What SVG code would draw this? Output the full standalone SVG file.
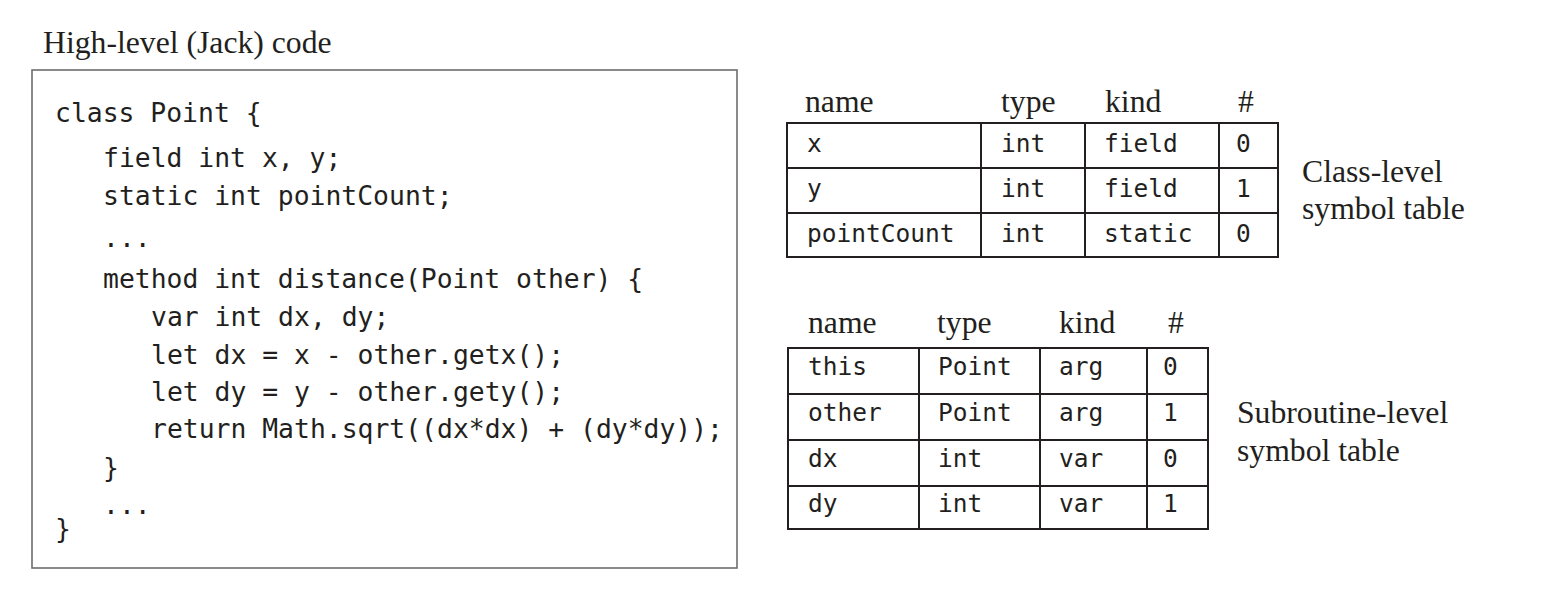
<svg xmlns="http://www.w3.org/2000/svg" width="1550" height="596" viewBox="0 0 1550 596">
<style>
.serif{font-family:"Liberation Serif","Times New Roman",serif;font-size:31.7px;fill:#231f20}
.code{font-family:"DejaVu Sans Mono","Liberation Mono",monospace;font-size:26.4px;fill:#231f20}
.cell{font-family:"DejaVu Sans Mono","Liberation Mono",monospace;font-size:24.5px;fill:#231f20}
.grid{fill:none;stroke:#231f20;stroke-width:2}
</style>
<rect width="1550" height="596" fill="#fff"/>
<g id="code">
<text class="serif" x="43" y="53">High-level (Jack) code</text>
<rect x="32" y="70" width="705" height="498" fill="none" stroke="#6d6d6d" stroke-width="1.6"/>
<text class="code" x="55" y="122">class Point {</text>
<text class="code" x="103" y="167">field int x, y;</text>
<text class="code" x="103" y="205">static int pointCount;</text>
<text class="code" x="103" y="247">...</text>
<text class="code" x="103" y="288">method int distance(Point other) {</text>
<text class="code" x="151" y="326">var int dx, dy;</text>
<text class="code" x="151" y="364">let dx = x - other.getx();</text>
<text class="code" x="151" y="401">let dy = y - other.gety();</text>
<text class="code" x="151" y="438">return Math.sqrt((dx*dx) + (dy*dy));</text>
<text class="code" x="103" y="477">}</text>
<text class="code" x="103" y="514">...</text>
<text class="code" x="55" y="538">}</text>
</g>
<g id="class-table">
<text class="serif" x="805" y="112">name</text>
<text class="serif" x="1001" y="112">type</text>
<text class="serif" x="1105" y="112">kind</text>
<text class="serif" x="1246" y="112" text-anchor="middle">#</text>
<rect class="grid" x="787" y="123" width="491" height="134"/>
<path class="grid" d="M787 168H1278M787 213H1278M981 123V257M1085 123V257M1219 123V257"/>
<text class="cell" x="807" y="152">x</text>
<text class="cell" x="1001" y="152">int</text>
<text class="cell" x="1104" y="152">field</text>
<text class="cell" x="1236" y="152">0</text>
<text class="cell" x="807" y="197">y</text>
<text class="cell" x="1001" y="197">int</text>
<text class="cell" x="1104" y="197">field</text>
<text class="cell" x="1236" y="197">1</text>
<text class="cell" x="807" y="242">pointCount</text>
<text class="cell" x="1001" y="242">int</text>
<text class="cell" x="1104" y="242">static</text>
<text class="cell" x="1236" y="242">0</text>
<text class="serif" x="1302" y="182">Class-level</text>
<text class="serif" x="1302" y="219">symbol table</text>
</g>
<g id="subroutine-table">
<text class="serif" x="808" y="333">name</text>
<text class="serif" x="937" y="333">type</text>
<text class="serif" x="1059" y="333">kind</text>
<text class="serif" x="1176" y="333" text-anchor="middle">#</text>
<rect class="grid" x="788" y="348" width="420" height="181"/>
<path class="grid" d="M788 394H1208M788 440H1208M788 486H1208M919 348V529M1040 348V529M1147 348V529"/>
<text class="cell" x="808" y="375">this</text>
<text class="cell" x="938" y="375">Point</text>
<text class="cell" x="1059" y="375">arg</text>
<text class="cell" x="1163" y="375">0</text>
<text class="cell" x="808" y="421">other</text>
<text class="cell" x="938" y="421">Point</text>
<text class="cell" x="1059" y="421">arg</text>
<text class="cell" x="1163" y="421">1</text>
<text class="cell" x="808" y="467">dx</text>
<text class="cell" x="938" y="467">int</text>
<text class="cell" x="1059" y="467">var</text>
<text class="cell" x="1163" y="467">0</text>
<text class="cell" x="808" y="512">dy</text>
<text class="cell" x="938" y="512">int</text>
<text class="cell" x="1059" y="512">var</text>
<text class="cell" x="1163" y="512">1</text>
<text class="serif" x="1237" y="423">Subroutine-level</text>
<text class="serif" x="1237" y="461">symbol table</text>
</g>
<g id="connectors"/>
</svg>
